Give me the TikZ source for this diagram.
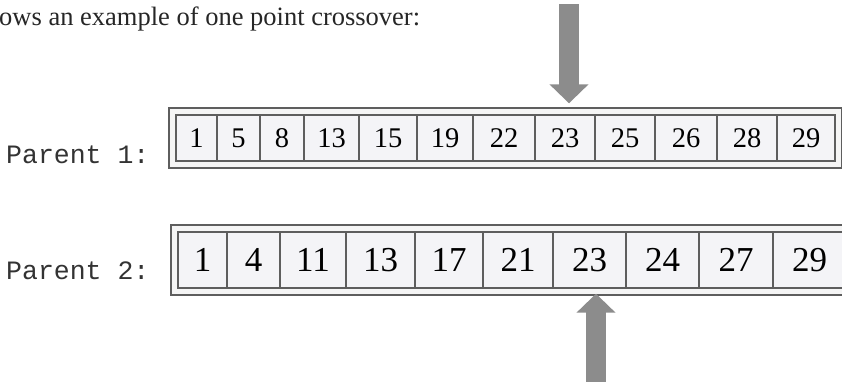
\documentclass[tikz,border=0pt]{standalone}
\usepackage{fontspec}
\setmainfont{Liberation Serif}
\setmonofont{Liberation Mono}
\usetikzlibrary{arrows.meta,fit,backgrounds}
\definecolor{framegray}{HTML}{5E5E5E}
\definecolor{cellfill}{HTML}{F4F4F7}
\definecolor{arrowgray}{HTML}{8C8C8C}
\begin{document}
\begin{tikzpicture}[x=1pt,y=-1pt,
  cellA/.style={draw=framegray,fill=cellfill,line width=1.1pt,
    minimum height=46pt,inner sep=0pt,outer sep=0pt,anchor=west,
    font=\fontsize{28.5}{30}\selectfont},
  cellB/.style={cellA,minimum height=56pt,
    font=\fontsize{35}{38}\selectfont},
  outbox/.style={draw=framegray,fill=white!96!black,line width=1.4pt,
    inner sep=7pt},
  lbl/.style={anchor=base west,inner sep=0pt,
    font=\ttfamily\fontsize{26.5}{28}\selectfont,text=black!80},
  cutarrow/.style={draw=arrowgray,line width=20pt,
    -{Triangle[width=38pt,length=19pt]}}]
\clip (0,0) rectangle (842,381);
\node[anchor=base west,inner sep=0pt,font=\fontsize{26.5}{28}\selectfont,
  text=black!85] (head) at (-1,25) {ows an example of one point crossover:};
% parent 1
\foreach \v/\l/\r [count=\i] in {1/176/217,5/217/260,8/260/304,13/304/359,
  15/359/417,19/417/473,22/473/535,23/535/595,25/595/655,26/655/717,
  28/717/777,29/777/835}
  \node[cellA,minimum width={(\r-\l)*1pt}] (p1c\i) at (\l,138) {\v};
\begin{scope}[on background layer]
  \node[outbox,fit=(p1c1)(p1c12)] (p1box) {};
\end{scope}
\node[lbl] (lab1) at (6,163) {Parent 1:};
% parent 2
\foreach \v/\l/\r [count=\i] in {1/178/227,4/227/280,11/280/346,13/346/415,
  17/415/483,21/483/553,23/553/626,24/626/699,27/699/773,29/773/846}
  \node[cellB,minimum width={(\r-\l)*1pt}] (p2c\i) at (\l,260) {\v};
\begin{scope}[on background layer]
  \node[outbox,fit=(p2c1)(p2c10)] (p2box) {};
\end{scope}
\node[lbl] (lab2) at (6,279) {Parent 2:};
% crossover points
\coordinate (cutA) at (569,4);
\coordinate (cutB) at (596,395);
\draw[cutarrow,shorten >=4pt] (cutA) -- (cutA |- p1box.north);
\draw[cutarrow,shorten >=-2pt] (cutB) -- (cutB |- p2box.south);
\end{tikzpicture}
\end{document}
